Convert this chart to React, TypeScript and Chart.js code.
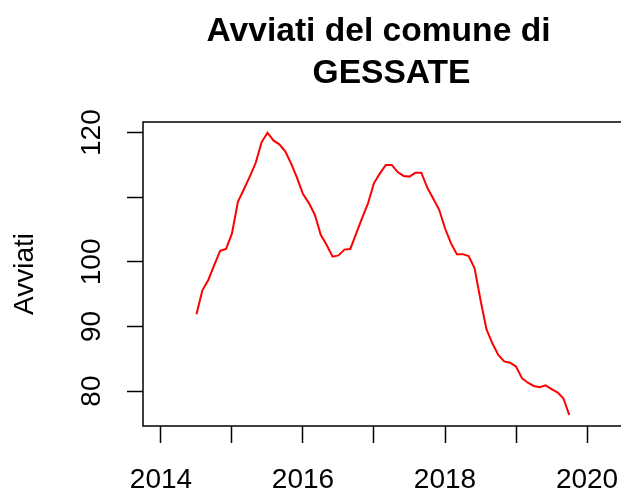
import React, { useEffect, useRef } from "react";
import { Chart, registerables } from "chart.js";

Chart.register(...registerables);

// ---- data ----
const startYear = 2014;
const startMonth = 7; // first observation: July 2014 (monthly series)
const avviati = [
  91.9, 95.6, 97.2, 99.5, 101.7, 102.0, 104.4, 109.3, 111.2, 113.2,
  115.3, 118.5, 120.0, 118.8, 118.2, 117.1, 115.2, 113.0, 110.5, 109.1,
  107.3, 104.2, 102.6, 100.8, 101.0, 101.9, 102.0, 104.4, 106.8, 109.1,
  112.2, 113.7, 115.0, 115.0, 113.9, 113.3, 113.2, 113.8, 113.8, 111.5,
  109.8, 108.1, 105.2, 102.9, 101.2, 101.2, 100.9, 99.0, 94.1, 89.6,
  87.4, 85.6, 84.6, 84.4, 83.8, 82.0, 81.3, 80.8, 80.6, 80.9,
  80.3, 79.8, 78.9, 76.3,
];
const xTicks = [2014, 2015, 2016, 2017, 2018, 2019, 2020];
const xTickLabels = ["2014", "", "2016", "", "2018", "", "2020"];
const yTicks = [80, 90, 100, 110, 120];
const yTickLabels = ["80", "90", "100", "", "120"];
const titleLines = ["Avviati del comune di", "GESSATE"];
const yTitle = "Avviati";

const FONT = '"Liberation Sans", Arial, Helvetica, sans-serif';

export default function App() {
  const ref = useRef<HTMLCanvasElement | null>(null);

  useEffect(() => {
    const canvas = ref.current;
    if (!canvas) return;

    const points = avviati.map((v, i) => ({
      x: startYear + (startMonth - 1 + i) / 12,
      y: v,
    }));

    const rStyle = {
      id: "rStyle",
      afterDraw(chart: any) {
        const { ctx, chartArea: a, scales } = chart;
        ctx.save();
        ctx.strokeStyle = "#000";
        ctx.lineWidth = 1.5;
        ctx.strokeRect(a.left, a.top, a.right - a.left, a.bottom - a.top);

        ctx.fillStyle = "#000";
        ctx.font = `28px ${FONT}`;
        ctx.textAlign = "center";
        ctx.textBaseline = "alphabetic";
        yTicks.forEach((v, k) => {
          const lbl = yTickLabels[k];
          if (!lbl) return;
          const py = scales.y.getPixelForValue(v);
          ctx.save();
          ctx.translate(a.left - 43, py);
          ctx.rotate(-Math.PI / 2);
          ctx.fillText(lbl, 0, 0);
          ctx.restore();
        });

        ctx.save();
        ctx.translate(33, (a.top + a.bottom) / 2);
        ctx.rotate(-Math.PI / 2);
        ctx.fillText(yTitle, 0, 0);
        ctx.restore();

        ctx.font = `bold 33.6px ${FONT}`;
        ctx.fillText(titleLines[0], 378.5, 41);
        ctx.fillText(titleLines[1], 391.5, 83);
        ctx.restore();
      },
    };

    const chart = new Chart(canvas, {
      type: "line",
      data: {
        datasets: [
          {
            data: points,
            borderColor: "#FF0000",
            borderWidth: 2,
            pointRadius: 0,
            tension: 0,
            fill: false,
          },
        ],
      },
      options: {
        animation: false,
        responsive: false,
        events: [],
        layout: { padding: { top: 122, right: 39, left: 0, bottom: 0 } },
        plugins: {
          legend: { display: false },
          title: { display: false },
          tooltip: { enabled: false },
        },
        scales: {
          x: {
            type: "linear",
            min: 2013.747,
            max: 2020.76,
            afterBuildTicks: (axis: any) => {
              axis.ticks = xTicks.map((v) => ({ value: v }));
            },
            afterFit: (axis: any) => {
              axis.height = 67;
            },
            border: { display: false },
            grid: {
              drawOnChartArea: false,
              drawTicks: true,
              tickLength: 17,
              tickWidth: 1.5,
              tickColor: "#000",
              color: "#000",
            },
            ticks: {
              autoSkip: false,
              maxRotation: 0,
              minRotation: 0,
              padding: 20,
              color: "#000",
              font: { family: FONT, size: 28 },
              callback: (value: any) => {
                const k = xTicks.indexOf(Number(value));
                return k >= 0 ? xTickLabels[k] : "";
              },
            },
          },
          y: {
            type: "linear",
            min: 74.6,
            max: 121.65,
            afterBuildTicks: (axis: any) => {
              axis.ticks = yTicks.map((v) => ({ value: v }));
            },
            afterFit: (axis: any) => {
              axis.width = 143;
            },
            border: { display: false },
            grid: {
              drawOnChartArea: false,
              drawTicks: true,
              tickLength: 16,
              tickWidth: 1.5,
              tickColor: "#000",
              color: "#000",
            },
            ticks: { display: false },
          },
        },
      },
      plugins: [rStyle],
    });

    return () => chart.destroy();
  }, []);

  return (
    <div
      style={{
        position: "absolute",
        left: 0,
        top: 0,
        width: 621,
        height: 493,
        overflow: "hidden",
        background: "#fff",
      }}
    >
      <canvas
        ref={ref}
        width={680}
        height={493}
        style={{ display: "block", width: 680, height: 493 }}
      />
    </div>
  );
}
